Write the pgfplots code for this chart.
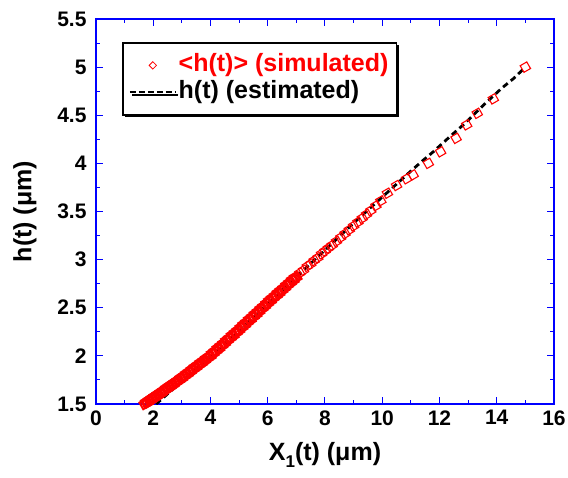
\documentclass[border=0pt]{standalone}
\usepackage{fontspec}
\setmainfont{Liberation Sans}
\usepackage{pgfplots}
\pgfplotsset{compat=1.18}
\usetikzlibrary{shadows}
\begin{document}
\begin{tikzpicture}
\path[use as bounding box] (-96pt,-73pt) rectangle (472pt,404pt);
\begin{axis}[
  at={(0,0)}, anchor=south west,
  scale only axis, width=458pt, height=385pt,
  xmin=0, xmax=16, ymin=1.5, ymax=5.5,
  xtick={0,2,...,16}, ytick={1.5,2,2.5,3,3.5,4,4.5,5,5.5},
  minor x tick num=1, minor y tick num=1,
  tick align=inside, major tick length=7pt, minor tick length=4pt,
  axis line style={blue, line width=1.4pt},
  every tick/.style={blue, line width=1pt},
  /pgf/number format/assume math mode=true,
  ticklabel style={font=\fontsize{21}{21}\selectfont\bfseries},
  yticklabel style={xshift=-6pt},
  xticklabel style={yshift=-3pt},
  xlabel={X\raisebox{-7pt}{\fontsize{17}{17}\selectfont 1}(t) (μm)},
  ylabel={h(t) (μm)},
  label style={font=\fontsize{25}{25}\selectfont\bfseries},
  xlabel style={at={(axis description cs:0.5,-0.098)}, anchor=north, inner sep=0pt},
  ylabel style={at={(axis description cs:-0.155,0.5)}, anchor=center, inner sep=0pt},
  legend style={at={(axis description cs:0.057,0.940)}, anchor=north west,
    draw=black, line width=1.6pt, fill=white,
    drop shadow={shadow xshift=2.5pt, shadow yshift=-2.5pt, fill=black, opacity=1},
    font=\fontsize{25}{27}\selectfont\bfseries,
    inner xsep=6pt, inner ysep=9pt, row sep=0pt,
    nodes={inner sep=2pt, text height=18pt, text depth=5pt}},
  legend cell align=left,
]
% estimated curve (drawn first, markers on top)
\addplot[black, line width=2.8pt, dash pattern=on 6pt off 4pt, forget plot]
coordinates {
(2.1,1.50)(2.75,1.67)(3.5,1.87)(4,1.99)(5,2.26)(6,2.54)(7,2.82)(8,3.10)
(9,3.38)(10,3.65)(11,3.92)(11.38,4.02)(11.78,4.12)(12.37,4.28)(12.83,4.40)
(13.59,4.62)(14.17,4.78)(14.58,4.88)(15,5.00)
};
% simulated, dense part
\addplot[only marks, mark=square, mark size=3.8pt, mark options={rotate=30, red, line width=2pt}, forget plot]
coordinates {
(1.70,1.500)(1.75,1.520)(1.80,1.515)(1.85,1.540)(1.90,1.535)(1.95,1.560)(2.00,1.555)
(2.05,1.580)(2.10,1.575)(2.15,1.600)(2.20,1.595)(2.25,1.620)(2.30,1.615)(2.35,1.640)
(2.40,1.640)(2.45,1.665)(2.50,1.660)(2.55,1.685)(2.60,1.680)(2.65,1.705)(2.70,1.700)
(2.75,1.725)(2.80,1.725)(2.85,1.745)(2.90,1.745)(2.95,1.770)(3.00,1.765)(3.05,1.790)
(3.10,1.790)(3.15,1.815)(3.20,1.810)(3.25,1.835)(3.30,1.835)(3.35,1.860)(3.40,1.860)
(3.45,1.885)(3.50,1.880)(3.55,1.905)(3.60,1.905)(3.65,1.930)(3.70,1.925)(3.75,1.950)
(3.80,1.950)(3.85,1.975)(3.90,1.975)(3.95,1.995)(4.00,1.995)(4.05,2.025)(4.10,2.025)
(4.15,2.050)(4.20,2.050)(4.25,2.080)(4.30,2.075)(4.35,2.105)(4.40,2.105)(4.45,2.130)
(4.50,2.130)(4.55,2.160)(4.60,2.160)(4.65,2.185)(4.70,2.185)(4.75,2.215)(4.80,2.210)
(4.85,2.240)(4.90,2.240)(4.95,2.265)(5.00,2.265)(5.05,2.295)(5.10,2.295)(5.15,2.325)
(5.20,2.320)(5.25,2.350)(5.30,2.350)(5.35,2.380)(5.40,2.375)(5.45,2.405)(5.50,2.405)
(5.55,2.435)(5.60,2.430)(5.65,2.460)(5.70,2.460)(5.75,2.490)(5.80,2.490)(5.85,2.515)
(5.90,2.515)(5.95,2.545)(6.00,2.545)(6.05,2.575)(6.10,2.570)(6.15,2.600)(6.20,2.600)
(6.25,2.625)(6.30,2.625)(6.35,2.655)(6.40,2.650)(6.45,2.680)(6.50,2.680)(6.55,2.705)
(6.60,2.705)(6.65,2.735)(6.70,2.735)(6.75,2.760)(6.80,2.760)(6.85,2.790)(6.90,2.785)
(6.95,2.815)(7.00,2.815)
};
% simulated, sparse part
\addplot[only marks, mark=square, mark size=3.8pt, mark options={rotate=30, red, line width=1.1pt},
  legend image code/.code={\draw plot[mark=square, mark size=2.6pt, mark options={rotate=45, red, line width=0.8pt}] coordinates {(23pt,0pt)}; \path (0pt,-3pt) (46pt,3pt);}]
coordinates {
(7.12,2.86)(7.25,2.89)(7.38,2.93)(7.50,2.955)(7.62,2.99)(7.75,3.02)(7.88,3.06)(8.00,3.09)
(8.12,3.12)(8.25,3.15)(8.40,3.19)(8.55,3.23)(8.70,3.27)(8.85,3.31)(9.00,3.35)(9.15,3.39)
(9.30,3.43)(9.45,3.47)(9.60,3.51)(9.78,3.56)(9.95,3.61)(10.18,3.69)(10.50,3.77)(10.85,3.84)
(11.08,3.88)(11.61,4.00)(12.04,4.12)(12.58,4.26)(12.95,4.40)(13.32,4.52)(13.88,4.67)(15.00,5.00)
};
\addlegendentry{\textcolor{red}{<h(t)> (simulated)}}
\addlegendimage{legend image code/.code={\draw[black, line width=1.8pt, dash pattern=on 6pt off 3pt] (0pt,0pt) -- (46pt,0pt);}}
\addlegendentry{h(t) (estimated)}
\end{axis}
\end{tikzpicture}
\end{document}
